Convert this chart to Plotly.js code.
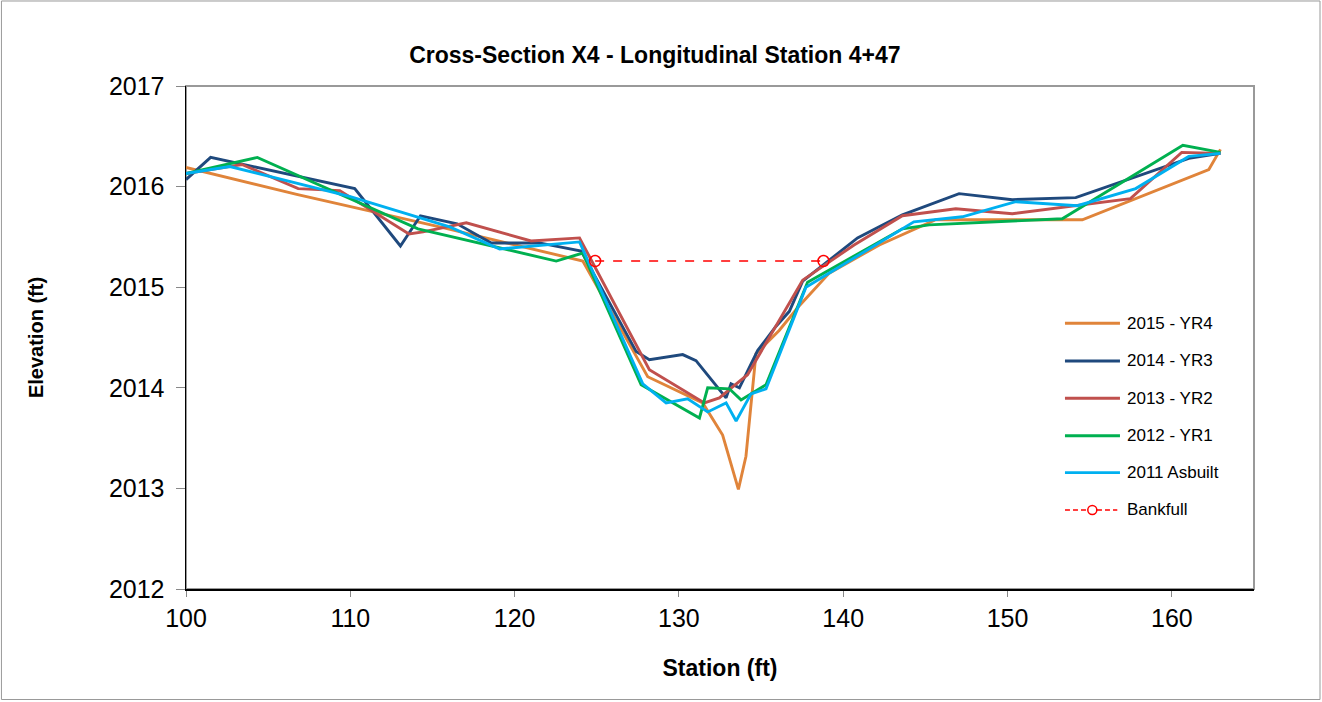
<!DOCTYPE html>
<html><head><meta charset="utf-8">
<script src="https://cdn.plot.ly/plotly-3.0.1.min.js"></script>
<style>html,body{margin:0;padding:0;background:#fff}#chart{width:1322px;height:702px}</style>
</head><body><div id="chart"></div>
<script>
const x2015 = [100,106.8,115.44,118.97,124.15,128.1,131.45,132.66,133.62,134.08,134.69,136.1,137.3,139.15,142.2,145.63,154.55,162.25,162.96];
const y2015 = [2016.19,2015.92,2015.6,2015.46,2015.26,2014.11,2013.85,2013.53,2012.99,2013.32,2014.34,2014.57,2014.81,2015.14,2015.42,2015.67,2015.67,2016.17,2016.37];

const x2014 = [100,101.5,110.27,113.05,114.27,116.5,118.58,121.5,124.05,127.4,128.2,130.23,131.04,132.87,133.17,133.68,134.79,135.9,136.72,137.53,140.87,143.6,147.05,150.29,154.15,157.8,161.03,162.96];
const y2014 = [2016.07,2016.29,2015.98,2015.41,2015.71,2015.63,2015.44,2015.44,2015.36,2014.36,2014.28,2014.33,2014.27,2013.9,2014.04,2014.0,2014.37,2014.61,2014.76,2015.06,2015.49,2015.72,2015.93,2015.87,2015.89,2016.1,2016.28,2016.33];

const x2013 = [100,103.4,106.83,109.36,113.57,114.43,117.06,121.0,123.95,128.2,131.55,132.46,133.27,134.18,137.53,140.66,143.6,146.85,150.29,157.48,160.6,162.96];
const y2013 = [2016.13,2016.22,2015.98,2015.96,2015.53,2015.55,2015.64,2015.46,2015.49,2014.18,2013.85,2013.9,2014.01,2014.13,2015.07,2015.42,2015.71,2015.78,2015.73,2015.88,2016.34,2016.33];

const x2012 = [100,104.34,114.12,122.53,124.15,127.7,131.25,131.75,133.07,133.78,135.3,137.83,143.6,145.23,153.33,160.67,162.96];
const y2012 = [2016.13,2016.29,2015.58,2015.26,2015.34,2014.03,2013.7,2014.0,2013.99,2013.88,2014.03,2015.05,2015.58,2015.62,2015.68,2016.41,2016.34];

const x2011 = [100,102.67,110,116.05,119.09,123.95,127.8,129.22,130.53,131.75,132.87,133.48,134.39,135.3,137.73,144.3,147.25,150.5,154.25,157.8,161.03,162.96];
const y2011 = [2016.13,2016.2,2015.9,2015.6,2015.38,2015.45,2014.04,2013.85,2013.89,2013.76,2013.85,2013.67,2013.94,2013.99,2015.0,2015.65,2015.7,2015.85,2015.81,2015.98,2016.3,2016.33];

const xBank = [124.9,138.8];
const yBank = [2015.26,2015.26];

const xTicks = [100,110,120,130,140,150,160];
const yTicks = [2012,2013,2014,2015,2016,2017];

const seriesNames = ['2015 - YR4','2014 - YR3','2013 - YR2','2012 - YR1','2011 Asbuilt'];
const seriesColors = ['#E0843A','#1F497D','#C0504D','#00B050','#00B0F0'];
const seriesX = [x2015,x2014,x2013,x2012,x2011];
const seriesY = [y2015,y2014,y2013,y2012,y2011];

const traces = seriesNames.map((n,i)=>({x:seriesX[i],y:seriesY[i],name:n,type:'scatter',mode:'lines',
  line:{color:seriesColors[i],width:2.9}}));
traces.push({x:xBank,y:yBank,name:'Bankfull',type:'scatter',mode:'lines+markers',
   line:{color:'#FF0000',width:1.5,dash:'dash'},
   marker:{symbol:'circle-open',size:11,color:'#FF0000',line:{width:1.5,color:'#FF0000'}}});

// legend (drawn manually, in paper coordinates)
const legX0 = 0.8230, legX1 = 0.8745, legTx = 0.8792;
const legY = [0.5282,0.4533,0.3791,0.3048,0.2313,0.1571];
const shapes = [
  {type:'rect',xref:'paper',yref:'paper',x0:0,x1:1,y0:0,y1:1,line:{color:'#999',width:2},layer:'below'},
  {type:'rect',xref:'paper',yref:'paper',x0:-0.1728,x1:1.0618,y0:-0.2197,y1:1.1690,line:{color:'#999',width:1},layer:'below'}
];
const annotations = [];
seriesNames.forEach((n,i)=>{
  shapes.push({type:'line',xref:'paper',yref:'paper',x0:legX0,x1:legX1,y0:legY[i],y1:legY[i],line:{color:seriesColors[i],width:2.9}});
  annotations.push({xref:'paper',yref:'paper',x:legTx,y:legY[i],xanchor:'left',yanchor:'middle',text:n,showarrow:false,font:{size:17,color:'#000'}});
});
shapes.push({type:'line',xref:'paper',yref:'paper',x0:legX0,x1:0.8720,y0:legY[5],y1:legY[5],line:{color:'#FF0000',width:1.5,dash:'5px,3px'}});
shapes.push({type:'circle',xref:'paper',yref:'paper',xsizemode:'pixel',ysizemode:'pixel',xanchor:0.8486,yanchor:legY[5],x0:-4.5,x1:4.5,y0:-4.5,y1:4.5,line:{color:'#FF0000',width:1.5},fillcolor:'#fff'});
annotations.push({xref:'paper',yref:'paper',x:legTx,y:legY[5],xanchor:'left',yanchor:'middle',text:'Bankfull',showarrow:false,font:{size:17,color:'#000'}});

const layout = {
  width:1322,height:702,
  paper_bgcolor:'#fff',plot_bgcolor:'#fff',
  margin:{l:186,r:68,t:86,b:113},
  font:{family:'Liberation Sans, Arial, sans-serif',color:'#000'},
  title:{text:'<b>Cross-Section X4 - Longitudinal Station 4+47</b>',font:{size:23,color:'#000'},xref:'paper',x:0.439,xanchor:'center',y:0.922,yanchor:'middle'},
  xaxis:{range:[100,165],tickvals:xTicks,ticktext:xTicks.map(String),
    showgrid:false,zeroline:false,showline:true,linecolor:'#000',linewidth:1.5,
    ticks:'outside',ticklen:6,tickcolor:'#888',tickwidth:1,
    tickfont:{size:25},
    title:{text:'<b>Station (ft)</b>',font:{size:23},standoff:29}},
  yaxis:{range:[2012,2017],tickvals:yTicks,ticktext:yTicks.map(String),
    showgrid:false,zeroline:false,showline:true,linecolor:'#000',linewidth:1.5,
    ticks:'outside',ticklen:9,tickcolor:'#888',tickwidth:1,ticklabelstandoff:6,
    tickfont:{size:25},
    title:{text:'<b>Elevation (ft)</b>',font:{size:20},standoff:60}},
  showlegend:false,
  shapes:shapes,
  annotations:annotations
};
Plotly.newPlot('chart',traces,layout,{staticPlot:true});
</script></body></html>
